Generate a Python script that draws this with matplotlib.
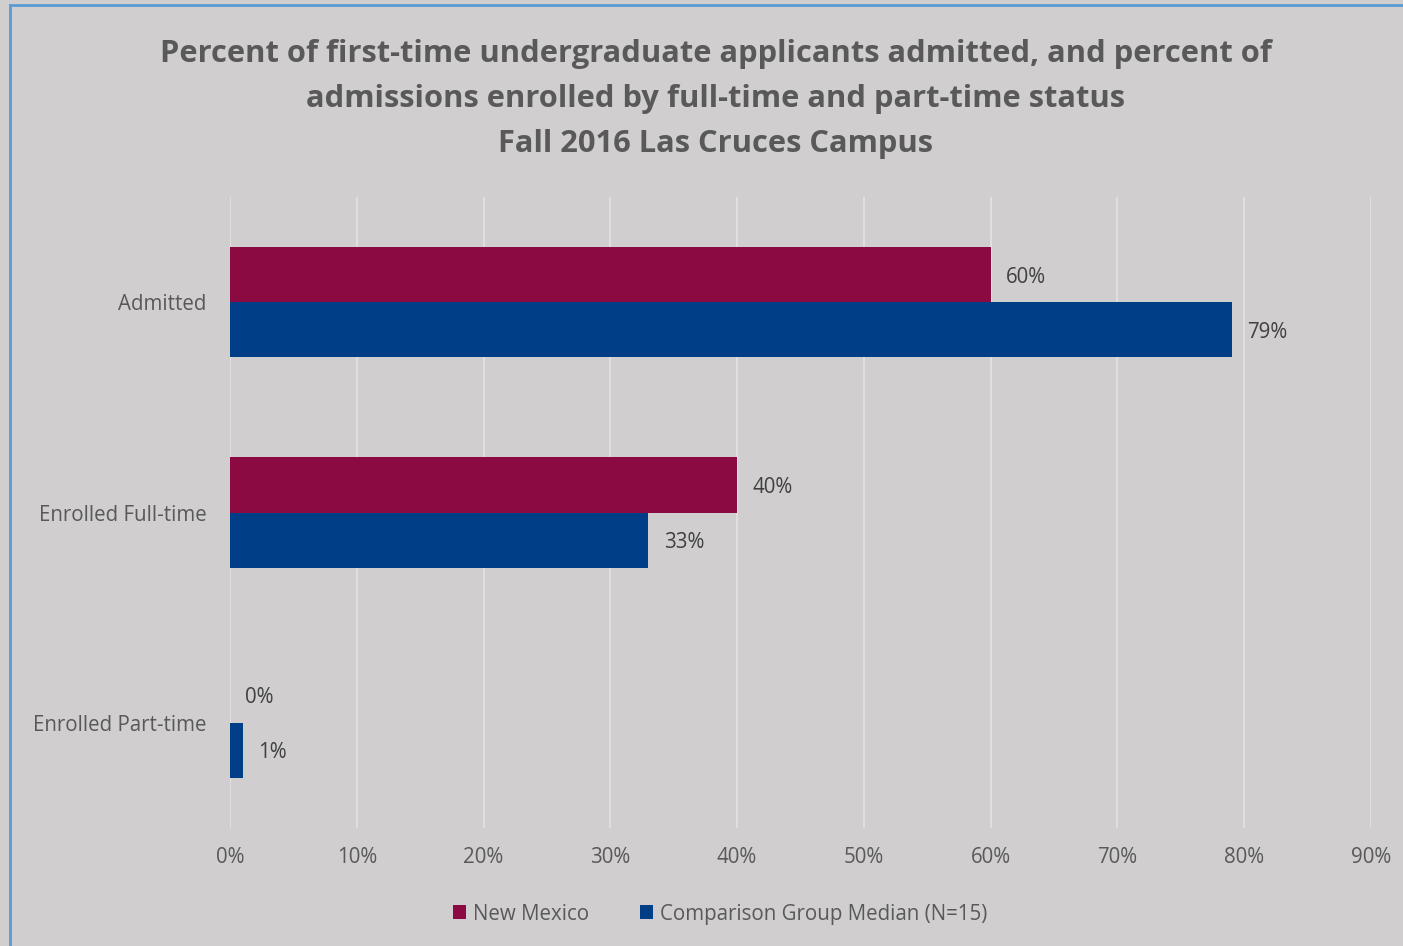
import matplotlib.pyplot as plt
import numpy as np

categories = ["Admitted", "Enrolled Full-time", "Enrolled Part-time"]
new_mexico = [60, 40, 0]
comparison = [79, 33, 1]
series_names = ["New Mexico", "Comparison Group Median (N=15)"]
xticks = [0, 10, 20, 30, 40, 50, 60, 70, 80, 90]

bg = "#D0CECE"
grey = "#595959"
maroon = "#8A0A41"
navy = "#003F87"

plt.rcParams["font.family"] = ["Open Sans", "DejaVu Sans"]

fig = plt.figure(figsize=(14.03, 9.46), dpi=100, facecolor=bg)
W, H = 1403, 946
ax = fig.add_axes([230 / W, (H - 828) / H, (1371 - 230) / W, (828 - 197) / H])
ax.set_facecolor(bg)

y = np.arange(len(categories))
h = 0.262
ax.barh(y - h / 2, new_mexico, height=h, color=maroon, label=series_names[0])
ax.barh(y + h / 2, comparison, height=h, color=navy, label=series_names[1])

for yi, v in zip(y, new_mexico):
    ax.text(v + 1.2, yi - h / 2 + 0.012, f"{v}%", va="center", ha="left", fontsize=14.8, color="#404040")
for yi, v in zip(y, comparison):
    ax.text(v + 1.2, yi + h / 2 + 0.012, f"{v}%", va="center", ha="left", fontsize=14.8, color="#404040")

ax.set_xlim(0, 90)
ax.set_ylim(2.5, -0.5)
ax.set_xticks(xticks)
ax.set_xticklabels([f"{t}%" for t in xticks], fontsize=14.8, color=grey)
ax.set_yticks(y)
ax.set_yticklabels(categories, fontsize=14.8, color=grey)
ax.tick_params(axis="both", length=0)
ax.tick_params(axis="x", pad=14)
ax.tick_params(axis="y", pad=17)
ax.grid(axis="x", color="#E4E3E3", linewidth=1.2)
ax.set_axisbelow(True)
for s in ax.spines.values():
    s.set_visible(False)

fig.text(716 / W, 1 - 99 / H,
         "Percent of first-time undergraduate applicants admitted, and percent of\n"
         "admissions enrolled by full-time and part-time status\n"
         "Fall 2016 Las Cruces Campus",
         ha="center", va="center", fontsize=22.2, fontweight="bold", color=grey,
         linespacing=1.66)

leg = fig.legend(loc="center", bbox_to_anchor=(720 / W, 1 - 914 / H), ncol=2, frameon=False,
                 fontsize=14.8, handlelength=0.65, handleheight=0.65, handletextpad=0.3,
                 columnspacing=2.5)
for t in leg.get_texts():
    t.set_color(grey)

# left/top border of the chart area
fig.add_artist(plt.Line2D([10 / W, 10 / W], [0, 1 - 5 / H], color="#5B9BD5", linewidth=2,
                          transform=fig.transFigure))
fig.add_artist(plt.Line2D([10 / W, 1], [1 - 5 / H, 1 - 5 / H], color="#5B9BD5", linewidth=2,
                          transform=fig.transFigure))

fig.savefig("out.png", dpi=100, facecolor=bg)
